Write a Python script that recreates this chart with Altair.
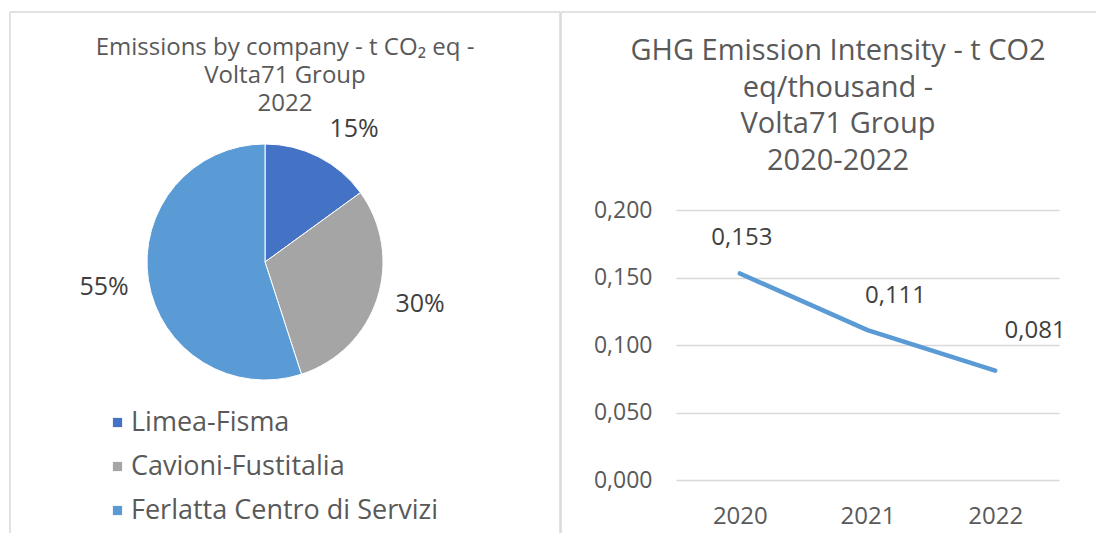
import altair as alt
import pandas as pd

# ---- data ----
companies = ["Limea-Fisma", "Cavioni-Fustitalia", "Ferlatta Centro di Servizi"]
shares = [15, 30, 55]
pie_colors = ["#4472C4", "#A5A5A5", "#5B9BD5"]

years = ["2020", "2021", "2022"]
intensity = [0.153, 0.111, 0.081]
y_ticks = [0.0, 0.05, 0.10, 0.15, 0.20]

left_title = ["Emissions by company - t CO\u2082 eq -", "Volta71 Group", "2022"]
right_title = ["GHG Emission Intensity - t CO2", "eq/thousand -", "Volta71 Group", "2020-2022"]

# ---- styles ----
FONT = "Open Sans"
TITLE_C = "#595959"
LABEL_C = "#404040"
GRID = "#D9D9D9"
label_offsets = {"2020": (2, -35), "2021": (28, -34), "2022": (40, -40)}
pct_offsets = {"Limea-Fisma": (15, 12), "Cavioni-Fustitalia": (0, -8), "Ferlatta Centro di Servizi": (0, 0)}

one = pd.DataFrame({"k": [0]})


def rule(x, x2, y, y2):
    return alt.Chart(one).mark_rule(color=GRID, strokeWidth=1.5).encode(
        x=alt.value(x), x2=alt.value(x2), y=alt.value(y), y2=alt.value(y2)
    )


# ---- left panel: pie ----
pie_df = pd.DataFrame({"company": companies, "share": shares, "ord": list(range(len(companies)))})
pie_df["label"] = pie_df["share"].astype(str) + "%"

cx, cy, R = 255, 52, 118
pie_base = alt.Chart(pie_df).encode(
    theta=alt.Theta("share:Q", stack=True),
    order=alt.Order("ord:Q"),
)
arcs = pie_base.mark_arc(outerRadius=R, stroke="white", strokeWidth=1).encode(
    x=alt.value(cx),
    y=alt.value(cy),
    color=alt.Color(
        "company:N",
        scale=alt.Scale(domain=companies, range=pie_colors),
        legend=alt.Legend(
            orient="none", legendX=94, legendY=199, title=None,
            symbolType="square", symbolSize=85, symbolStrokeWidth=0,
            labelFontSize=27, labelFont=FONT, labelColor=TITLE_C, labelLimit=500,
            rowPadding=16, labelOffset=0,
        ),
    ),
)
pcts = []
for comp in companies:
    dx, dy = pct_offsets[comp]
    pcts.append(
        pie_base.mark_text(radius=163, fontSize=25, font=FONT, color=LABEL_C, dx=dx, dy=dy)
        .encode(x=alt.value(cx), y=alt.value(cy), text="label:N",
                opacity=alt.condition(alt.datum.company == comp, alt.value(1), alt.value(0)))
    )
ltitle = alt.Chart(one).mark_text(
    fontSize=24, font=FONT, color=TITLE_C, lineHeight=28, baseline="middle", align="center"
).encode(x=alt.value(275), y=alt.value(-162), text=alt.value(left_title))

left = alt.layer(
    rule(0, 550, -198, -198), rule(0, 0, -198, 323), rule(550, 550, -198, 323),
    arcs, *pcts, ltitle,
).properties(width=550, height=270)

# ---- right panel: line ----
line_df = pd.DataFrame({"year": years, "value": intensity})
line_df["lbl"] = [f"{v:.3f}".replace(".", ",") for v in intensity]

xenc = alt.X(
    "year:O",
    scale=alt.Scale(type="point", padding=0.5),
    axis=alt.Axis(title=None, domain=False, ticks=False, tickSize=0, labelAngle=0,
                  labelFontSize=24, labelFont=FONT, labelColor=TITLE_C, labelPadding=24,
                  grid=False),
)
yenc = alt.Y(
    "value:Q",
    scale=alt.Scale(domain=[0, 0.2], nice=False, zero=True),
    axis=alt.Axis(title=None, values=y_ticks, domain=False, ticks=False, tickSize=0,
                  labelExpr="replace(format(datum.value, '.3f'), '.', ',')",
                  labelFontSize=23, labelFont=FONT, labelColor=TITLE_C, labelPadding=24,
                  grid=True, gridColor=GRID, gridWidth=1.5),
)

line = alt.Chart(line_df).mark_line(
    color="#5B9BD5", strokeWidth=4.5, strokeCap="round", strokeJoin="round"
).encode(x=xenc, y=yenc)

labels = []
for yr in years:
    dx, dy = label_offsets[yr]
    labels.append(
        alt.Chart(line_df).transform_filter(alt.datum.year == yr).mark_text(
            fontSize=24, font=FONT, color=LABEL_C, dx=dx, dy=dy
        ).encode(x=alt.X("year:O"), y=alt.Y("value:Q"), text="lbl:N")
    )

rtitle = alt.Chart(one).mark_text(
    fontSize=29, font=FONT, color=TITLE_C, lineHeight=36.5, baseline="middle", align="center"
).encode(x=alt.value(162), y=alt.value(-159), text=alt.value(right_title))

right = alt.layer(
    rule(-115, 420, -198, -198), rule(-115, -115, -198, 323),
    rtitle, line, *labels,
).properties(width=383, height=270)

chart = alt.hconcat(left, right, spacing=-3).properties(
    padding={"left": 0, "top": 2, "right": 0, "bottom": 0}
).configure_view(stroke="transparent")

chart.save("out.html", embed_options={"renderer": "svg", "actions": False})
